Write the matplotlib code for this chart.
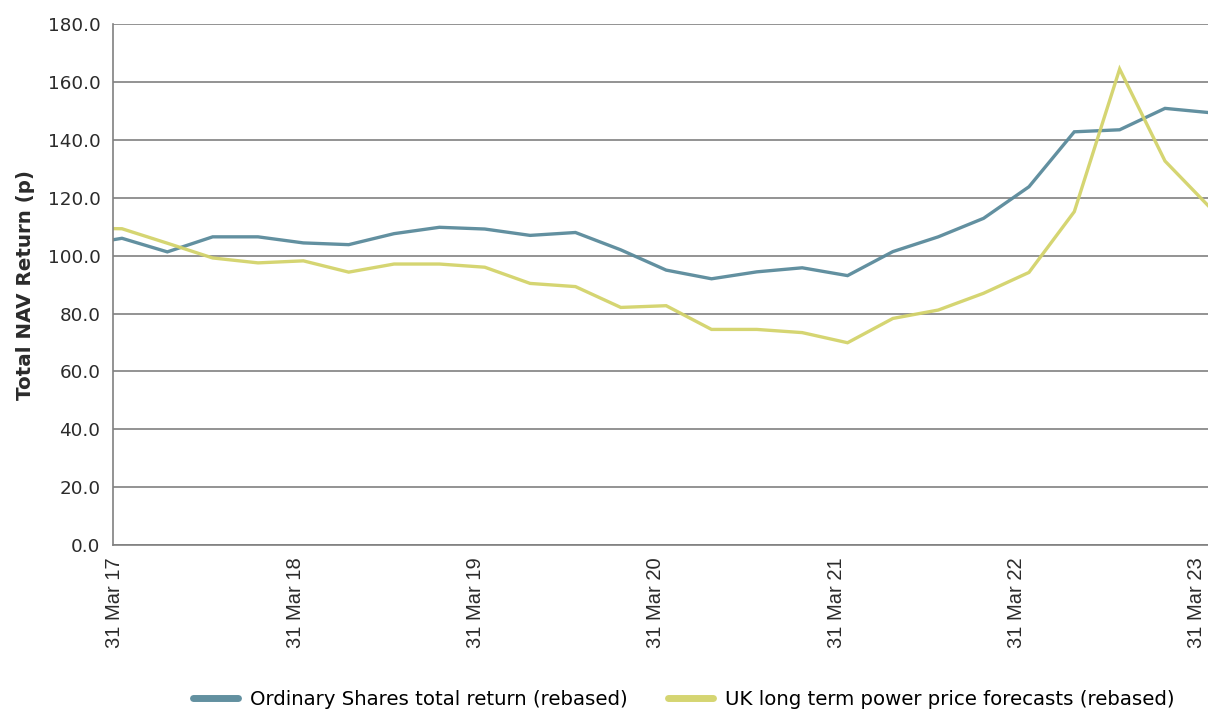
import numpy as np
import matplotlib
matplotlib.use("Agg")
import matplotlib.pyplot as plt

# Quarterly readings (first point sits just left of the axis)
shares_return = [103.4, 106.0, 101.3, 106.5, 106.5, 104.4, 103.8, 107.6, 109.8, 109.2,
                 107.0, 108.0, 102.0, 95.0, 92.0, 94.4, 95.8, 93.1, 101.4, 106.5,
                 112.9, 123.8, 142.8, 143.5, 150.9, 149.4]
power_forecast = [109.5, 109.3, 104.3, 99.2, 97.5, 98.2, 94.3, 97.1, 97.1, 96.0,
                  90.4, 89.3, 82.1, 82.7, 74.5, 74.5, 73.4, 69.9, 78.3, 81.2,
                  87.0, 94.2, 115.2, 164.5, 132.7, 116.5]
year_labels = ["31 Mar 17", "31 Mar 18", "31 Mar 19", "31 Mar 20",
               "31 Mar 21", "31 Mar 22", "31 Mar 23"]

# x in years since 31 Mar 17, points are (roughly) quarterly
x = (np.arange(len(shares_return)) - 1) * 0.2515 + 0.039

blue = "#5a8a9b"
yellow = "#d3d36a"

fig = plt.figure(figsize=(12.08, 7.11), dpi=100)
ax = fig.add_axes([0.0935, 0.2335, 0.9065, 0.7325])

ax.plot(x, shares_return, color=blue, lw=2.4, alpha=0.95, solid_joinstyle="miter",
        label="Ordinary Shares total return (rebased)")
ax.plot(x, power_forecast, color=yellow, lw=2.4, alpha=0.95, solid_joinstyle="miter",
        label="UK long term power price forecasts (rebased)")

ax.set_xlim(-0.011, 6.062)
ax.set_ylim(0, 180)
ax.set_yticks(np.arange(0, 181, 20))
ax.set_yticklabels([f"{v:.1f}" for v in np.arange(0, 181, 20)],
                   fontsize=13.2, color="#2b2b2b")
ax.set_xticks(np.arange(len(year_labels)))
ax.set_xticklabels(year_labels, rotation=90, fontsize=14.5, color="#2b2b2b",
                   family="Liberation Sans")
ax.tick_params(axis="both", length=0)
ax.tick_params(axis="y", pad=9)
ax.tick_params(axis="x", pad=9)

ax.grid(axis="y", color="#808080", lw=1.2)
ax.set_axisbelow(True)
for side in ["top", "right"]:
    ax.spines[side].set_visible(False)
ax.spines["left"].set_color("#808080")
ax.spines["bottom"].set_color("#808080")
ax.spines["left"].set_linewidth(1.2)
ax.spines["bottom"].set_linewidth(1.2)

ax.set_ylabel("Total NAV Return (p)", fontsize=14.3, fontweight="bold",
              color="#2b2b2b", labelpad=9)

fig.legend(loc="center", bbox_to_anchor=(0.566, 0.016), ncol=2, frameon=False,
           fontsize=14.2, handlelength=2.3, columnspacing=2.0, handletextpad=0.6)
for line in fig.legends[0].get_lines():
    line.set_linewidth(5)
    line.set_solid_capstyle("round")

fig.savefig("out.png", dpi=100)
